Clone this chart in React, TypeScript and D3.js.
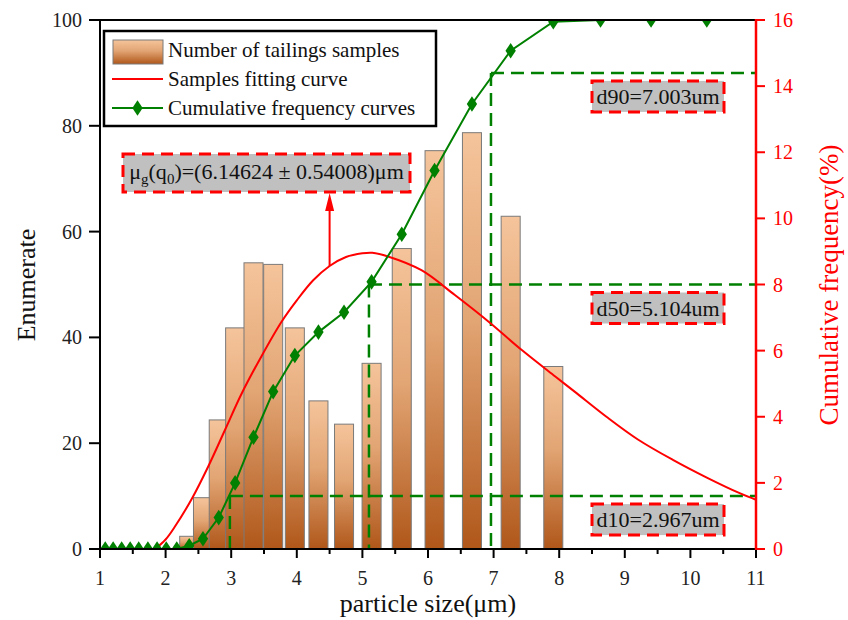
import React, { useRef, useEffect } from 'react';
import * as d3 from 'd3';

// histogram bins (particle size, µm) and sample counts
const binCenters = [2.36, 2.57, 2.81, 3.06, 3.34, 3.64, 3.97, 4.33, 4.72, 5.14, 5.6, 6.1, 6.67, 7.26, 7.91];
const sampleCounts = [2.4, 9.7, 24.4, 41.8, 54.1, 53.8, 41.8, 28.0, 23.6, 35.1, 56.8, 75.3, 78.7, 62.9, 34.5];

// fitted curve
const fitX = [1.84, 2.0, 2.14, 2.4, 2.65, 2.905, 3.16, 3.46, 3.77, 4.0, 4.25, 4.5, 4.75, 5.0, 5.15, 5.39, 5.9, 6.41, 6.92, 7.43, 7.94, 8.24, 8.72, 9.2, 9.74, 10.25, 10.76, 11.0];
const fitY = [0, 1.8, 4.2, 9.5, 15.6, 22.5, 29.4, 36.4, 43.0, 47.0, 50.8, 53.5, 55.2, 55.9, 56.0, 55.3, 52.7, 48.0, 43.0, 37.6, 32.6, 29.7, 25.0, 20.7, 16.8, 13.5, 10.5, 9.3];

// cumulative frequency (right axis)
const cumX = [1.08, 1.2, 1.33, 1.46, 1.59, 1.73, 1.87, 2.01, 2.17, 2.36, 2.57, 2.81, 3.06, 3.34, 3.64, 3.97, 4.33, 4.72, 5.14, 5.6, 6.1, 6.67, 7.26, 7.91, 8.63, 9.4, 10.25];
const cumY = [0, 0, 0, 0, 0, 0, 0, 0, 0, 0.1, 0.31, 0.95, 2.0, 3.38, 4.76, 5.85, 6.56, 7.16, 8.08, 9.52, 11.45, 13.46, 15.07, 15.95, 16, 16, 16];

// d10 / d50 / d90 markers
const dLabels = ['d10=2.967um', 'd50=5.104um', 'd90=7.003um'];
const dSizes = [2.98, 5.1, 6.96];
const dLevels = [1.6, 8, 14.4];

const xTicks = [1, 2, 3, 4, 5, 6, 7, 8, 9, 10, 11];
const leftTicks = [0, 20, 40, 60, 80, 100];
const rightTicks = [0, 2, 4, 6, 8, 10, 12, 14, 16];

const legendItems = ['Number of tailings samples', 'Samples fitting curve', 'Cumulative frequency curves'];
const arrowAt = 4.5;

const W = 848, H = 620;
const FONT = '"Liberation Serif", "Times New Roman", serif';

const App: React.FC = () => {
  const svgRef = useRef<SVGSVGElement | null>(null);

  useEffect(() => {
    const svg = d3.select(svgRef.current);
    svg.selectAll('*').remove();

    const left = 100, right = 756, top = 20, bottom = 549;
    const x = d3.scaleLinear().domain([1, 11]).range([left, right]);
    const yL = d3.scaleLinear().domain([0, 100]).range([bottom, top]);
    const yR = d3.scaleLinear().domain([0, 16]).range([bottom, top]);

    const defs = svg.append('defs');
    const grad = defs.append('linearGradient').attr('id', 'barGrad')
      .attr('x1', 0).attr('y1', 0).attr('x2', 0).attr('y2', 1);
    grad.append('stop').attr('offset', '0%').attr('stop-color', '#f5c49b');
    grad.append('stop').attr('offset', '45%').attr('stop-color', '#e2a574');
    grad.append('stop').attr('offset', '100%').attr('stop-color', '#b0571a');
    defs.append('clipPath').attr('id', 'plotClip')
      .append('rect').attr('x', left).attr('y', top).attr('width', right - left).attr('height', bottom - top);

    const plot = svg.append('g').attr('clip-path', 'url(#plotClip)');

    // bars
    const halfW = 0.145;
    plot.selectAll('.bar')
      .data(binCenters)
      .enter().append('rect')
      .attr('class', 'bar')
      .attr('x', d => x(d - halfW))
      .attr('width', d => x(d + halfW) - x(d - halfW))
      .attr('y', (d, i) => yL(sampleCounts[i]))
      .attr('height', (d, i) => yL(0) - yL(sampleCounts[i]))
      .attr('fill', 'url(#barGrad)')
      .attr('stroke', '#7a7a7a')
      .attr('stroke-width', 1);

    // dashed guide lines
    dLevels.forEach((lv, i) => {
      plot.append('line')
        .attr('x1', x(dSizes[i])).attr('x2', right)
        .attr('y1', yR(lv)).attr('y2', yR(lv))
        .attr('stroke', '#008000').attr('stroke-width', 2.5).attr('stroke-dasharray', '13,7');
      plot.append('line')
        .attr('x1', x(dSizes[i])).attr('x2', x(dSizes[i]))
        .attr('y1', yR(lv)).attr('y2', bottom)
        .attr('stroke', '#008000').attr('stroke-width', 2.5).attr('stroke-dasharray', '13,7');
    });

    // fitting curve
    const fitLine = d3.line<number>()
      .x(d => x(d))
      .y((d, i) => yL(fitY[i]))
      .curve(d3.curveCatmullRom.alpha(0.5));
    plot.append('path').datum(fitX)
      .attr('d', fitLine)
      .attr('fill', 'none').attr('stroke', '#ff0000').attr('stroke-width', 2);

    // cumulative curve
    const cumLine = d3.line<number>()
      .x(d => x(d))
      .y((d, i) => yR(cumY[i]));
    plot.append('path').datum(cumX)
      .attr('d', cumLine)
      .attr('fill', 'none').attr('stroke', '#008000').attr('stroke-width', 2);
    const diamond = d3.symbol().type(d3.symbolDiamond).size(70);
    plot.selectAll('.pt')
      .data(cumX)
      .enter().append('path')
      .attr('class', 'pt')
      .attr('d', diamond as any)
      .attr('transform', (d, i) => `translate(${x(d)},${yR(cumY[i])}) scale(1.15,1)`)
      .attr('fill', '#008000');

    // axes frame
    svg.append('line').attr('x1', left).attr('x2', right).attr('y1', top).attr('y2', top)
      .attr('stroke', '#000').attr('stroke-width', 2);
    svg.append('line').attr('x1', left).attr('x2', left).attr('y1', top - 1).attr('y2', bottom + 1)
      .attr('stroke', '#000').attr('stroke-width', 2);
    svg.append('line').attr('x1', left - 1).attr('x2', right).attr('y1', bottom).attr('y2', bottom)
      .attr('stroke', '#000').attr('stroke-width', 2);

    // bottom ticks
    const minor = d3.range(1.5, 11, 1);
    svg.selectAll('.xmin').data(minor).enter().append('line')
      .attr('x1', d => x(d)).attr('x2', d => x(d)).attr('y1', bottom).attr('y2', bottom + 5)
      .attr('stroke', '#000').attr('stroke-width', 2);
    svg.selectAll('.xmaj').data(xTicks).enter().append('line')
      .attr('x1', d => x(d)).attr('x2', d => x(d)).attr('y1', bottom).attr('y2', bottom + 9)
      .attr('stroke', '#000').attr('stroke-width', 2);
    svg.selectAll('.xlab').data(xTicks).enter().append('text')
      .attr('x', d => x(d)).attr('y', 585)
      .attr('text-anchor', 'middle').attr('font-family', FONT).attr('font-size', 20)
      .attr('fill', '#222').text(d => d);

    // left ticks
    svg.selectAll('.ylt').data(leftTicks).enter().append('line')
      .attr('x1', left - 11).attr('x2', left).attr('y1', d => yL(d)).attr('y2', d => yL(d))
      .attr('stroke', '#000').attr('stroke-width', 2);
    svg.selectAll('.yll').data(leftTicks).enter().append('text')
      .attr('x', 82).attr('y', d => yL(d) + 7)
      .attr('text-anchor', 'end').attr('font-family', FONT).attr('font-size', 20)
      .attr('fill', '#222').text(d => d);

    // right axis (red)
    svg.append('line').attr('x1', right).attr('x2', right).attr('y1', top - 1).attr('y2', bottom + 1)
      .attr('stroke', '#ff0000').attr('stroke-width', 2.5);
    svg.selectAll('.yrt').data(rightTicks).enter().append('line')
      .attr('x1', right).attr('x2', right + 9).attr('y1', d => yR(d)).attr('y2', d => yR(d))
      .attr('stroke', '#ff0000').attr('stroke-width', 2);
    svg.selectAll('.yrl').data(rightTicks).enter().append('text')
      .attr('x', 773).attr('y', d => yR(d) + 7)
      .attr('font-family', FONT).attr('font-size', 20)
      .attr('fill', '#ff0000').text(d => d);

    // axis titles
    svg.append('text').attr('x', W / 2 + 4).attr('y', 612).attr('text-anchor', 'middle')
      .attr('font-family', FONT).attr('font-size', 26).attr('fill', '#111').text('particle size(μm)');
    svg.append('text').attr('transform', `translate(35,285) rotate(-90)`).attr('text-anchor', 'middle')
      .attr('font-family', FONT).attr('font-size', 26).attr('fill', '#111').text('Enumerate');
    svg.append('text').attr('transform', `translate(838,285) rotate(-90)`).attr('text-anchor', 'middle')
      .attr('font-family', FONT).attr('font-size', 27).attr('fill', '#ff0000').text('Cumulative frequency(%)');

    // annotation boxes
    const boxL = 592, boxR = 724;
    dLevels.forEach((lv, i) => {
      const by = yR(lv) + 8;
      svg.append('rect').attr('x', boxL).attr('y', by).attr('width', boxR - boxL).attr('height', 31)
        .attr('fill', '#c0c0c0').attr('stroke', '#ff0000').attr('stroke-width', 3).attr('stroke-dasharray', '12,7');
      svg.append('text').attr('x', (boxL + boxR) / 2).attr('y', by + 23).attr('text-anchor', 'middle')
        .attr('font-family', FONT).attr('font-size', 22).attr('fill', '#111').text(dLabels[i]);
    });

    // μ annotation and arrow
    const muL = 123, muR = 410, muT = 154, muB = 192;
    svg.append('rect').attr('x', muL).attr('y', muT).attr('width', muR - muL).attr('height', muB - muT)
      .attr('fill', '#c0c0c0').attr('stroke', '#ff0000').attr('stroke-width', 3).attr('stroke-dasharray', '12,7');
    const mu = svg.append('text').attr('x', (muL + muR) / 2).attr('y', 179).attr('text-anchor', 'middle')
      .attr('font-family', FONT).attr('font-size', 22).attr('fill', '#111');
    mu.append('tspan').text('μ');
    mu.append('tspan').attr('dy', 5).attr('font-size', 15).text('g');
    mu.append('tspan').attr('dy', -5).text('(q');
    mu.append('tspan').attr('dy', 5).attr('font-size', 15).text('0');
    mu.append('tspan').attr('dy', -5).text(')=(6.14624 ± 0.54008)μm');

    const ax = x(arrowAt);
    const ay = yL(fitY[fitX.indexOf(arrowAt)]);
    svg.append('line').attr('x1', ax).attr('x2', ax).attr('y1', ay).attr('y2', muB + 14)
      .attr('stroke', '#ff0000').attr('stroke-width', 2);
    svg.append('path')
      .attr('d', `M${ax},${muB + 1} L${ax - 4.5},${muB + 19} L${ax + 4.5},${muB + 19} Z`)
      .attr('fill', '#ff0000');

    // legend
    const lg = svg.append('g');
    lg.append('rect').attr('x', 104).attr('y', 31).attr('width', 332).attr('height', 95)
      .attr('fill', '#fff').attr('stroke', '#000').attr('stroke-width', 2.5);
    lg.append('rect').attr('x', 113).attr('y', 40).attr('width', 50).attr('height', 24)
      .attr('fill', 'url(#barGrad)').attr('stroke', '#7a7a7a').attr('stroke-width', 1);
    lg.append('line').attr('x1', 112).attr('x2', 163).attr('y1', 79).attr('y2', 79)
      .attr('stroke', '#ff0000').attr('stroke-width', 2);
    lg.append('line').attr('x1', 112).attr('x2', 163).attr('y1', 108).attr('y2', 108)
      .attr('stroke', '#008000').attr('stroke-width', 2);
    lg.append('path').attr('d', diamond as any).attr('transform', 'translate(137.5,108) scale(1.15,1)')
      .attr('fill', '#008000');
    lg.selectAll('.lt').data(legendItems).enter().append('text')
      .attr('x', 168).attr('y', (d, i) => 57 + i * 29)
      .attr('font-family', FONT).attr('font-size', 21).attr('fill', '#111').text(d => d);
  }, []);

  return (
    <svg ref={svgRef} width={W} height={H}
      style={{ position: 'absolute', left: 0, top: 0, background: '#fff' }}></svg>
  );
};

export default App;
